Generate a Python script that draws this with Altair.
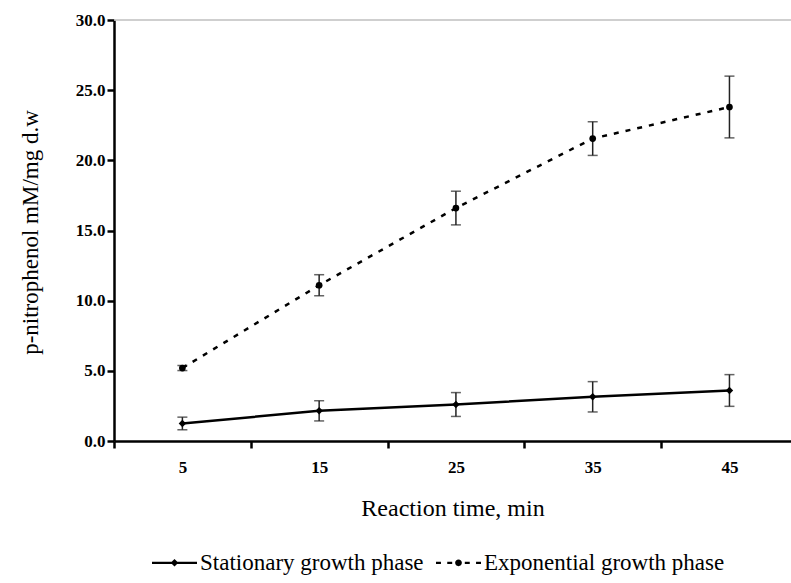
import altair as alt
import pandas as pd

# Reaction time (min) and p-nitrophenol release per mg dry weight
times = [5, 15, 25, 35, 45]
stationary = [1.25, 2.15, 2.6, 3.15, 3.6]
stationary_err = [0.45, 0.72, 0.85, 1.08, 1.13]
exponential = [5.2, 11.1, 16.6, 21.55, 23.8]
exponential_err = [0.18, 0.75, 1.2, 1.2, 2.2]
series_names = ["Stationary growth phase", "Exponential growth phase"]

y_ticks = [0, 5, 10, 15, 20, 25, 30]
x_ticks = [0, 5, 10, 15, 20, 25, 30, 35, 40, 45]

rows = []
for name, vals, errs in [(series_names[0], stationary, stationary_err),
                         (series_names[1], exponential, exponential_err)]:
    for t, v, e in zip(times, vals, errs):
        rows.append({"time": t, "value": v, "series": name,
                     "lo": v - e, "hi": v + e})
df = pd.DataFrame(rows)

serif = "Liberation Serif"
bar_color = "#222222"

x_scale = alt.Scale(domain=[0, 49.5], nice=False, zero=False)
y_scale = alt.Scale(domain=[0, 30], nice=False)

x_enc = alt.X(
    "time:Q",
    scale=x_scale,
    axis=alt.Axis(
        values=x_ticks,
        labelExpr="datum.value % 10 == 5 ? format(datum.value, 'd') : ''",
        tickOpacity={"condition": {"test": "datum.value % 10 == 5", "value": 0}, "value": 1},
        labelOverlap=False,
        labelPadding=11,
        titleY=67,
        titleBaseline="middle",
        titleFontSize=24,
    ),
    title="Reaction time, min",
)
y_enc = alt.Y(
    "value:Q",
    scale=y_scale,
    axis=alt.Axis(
        values=y_ticks,
        format=".1f",
        labelPadding=2,
        titleX=-84,
        titleY=212,
        titleAngle=-90,
        titleAlign="center",
        titleBaseline="middle",
    ),
    title="p-nitrophenol mM/mg d.w",
)

base = alt.Chart(df)

# error bars with caps
bars = base.mark_rule(color=bar_color, strokeWidth=1.5).encode(
    x=alt.X("time:Q", scale=x_scale), y=alt.Y("lo:Q", scale=y_scale), y2="hi:Q"
)
caps_lo = base.mark_tick(orient="horizontal", size=10, thickness=1.5, color=bar_color).encode(
    x=alt.X("time:Q", scale=x_scale), y=alt.Y("lo:Q", scale=y_scale)
)
caps_hi = base.mark_tick(orient="horizontal", size=10, thickness=1.5, color=bar_color).encode(
    x=alt.X("time:Q", scale=x_scale), y=alt.Y("hi:Q", scale=y_scale)
)

# one line + marker layer per series
stat = base.transform_filter(alt.datum.series == series_names[0])
expo = base.transform_filter(alt.datum.series == series_names[1])

stat_line = stat.mark_line(color="black", strokeWidth=2.5).encode(x=x_enc, y=y_enc)
expo_line = expo.mark_line(color="black", strokeWidth=2.5, strokeDash=[5, 7]).encode(
    x=alt.X("time:Q", scale=x_scale), y=alt.Y("value:Q", scale=y_scale)
)
stat_pts = stat.mark_point(shape="diamond", filled=True, size=55, color="black", opacity=1).encode(
    x=alt.X("time:Q", scale=x_scale), y=alt.Y("value:Q", scale=y_scale)
)
expo_pts = expo.mark_point(shape="circle", filled=True, size=45, color="black", opacity=1).encode(
    x=alt.X("time:Q", scale=x_scale), y=alt.Y("value:Q", scale=y_scale)
)

# legend symbols in the unit square: thin filled bars for the line, plus the marker
sym_stat = ("M-1,-0.05H1V0.05H-1Z"
            "M0,-0.17L0.17,0L0,0.17L-0.17,0Z")
sym_expo = ("M-1,-0.05H-0.78V0.05H-1Z"
            "M-0.5,-0.05H-0.28V0.05H-0.5Z"
            "M0.28,-0.05H0.5V0.05H0.28Z"
            "M0.78,-0.05H1V0.05H0.78Z"
            "M-0.15,0A0.15,0.15,0,1,0,0.15,0A0.15,0.15,0,1,0,-0.15,0Z")

legend_layer = base.transform_filter("false").mark_point(
    filled=True, color="black", opacity=1
).encode(
    x=alt.X("time:Q", scale=x_scale),
    y=alt.Y("value:Q", scale=y_scale),
    shape=alt.Shape(
        "series:N",
        scale=alt.Scale(domain=series_names, range=[sym_stat, sym_expo]),
        legend=alt.Legend(
            title=None,
            orient="none",
            direction="horizontal",
            legendX=38,
            legendY=520,
            symbolSize=2025,
            symbolStrokeWidth=0,
            symbolFillColor="black",
            symbolOpacity=1,
            labelFont=serif,
            labelFontSize=23,
            labelColor="black",
            labelLimit=400,
            labelOffset=3,
            columnPadding=12,
        ),
    ),
)

top_line = alt.Chart(pd.DataFrame({"v": [y_ticks[-1]]})).mark_rule(
    color="#bfbfbf", strokeWidth=1.5
).encode(y=alt.Y("v:Q", scale=y_scale))

chart = (
    alt.layer(top_line, bars, caps_lo, caps_hi, stat_line, expo_line, stat_pts, expo_pts, legend_layer)
    .properties(
        width=677,
        height=421,
        autosize=alt.AutoSizeParams(type="none"),
        padding={"left": 114, "top": 20, "right": 0, "bottom": 142},
        background="white",
    )
    .configure_view(stroke=None)
    .configure_axis(
        domainColor="black",
        domainWidth=2.5,
        tickColor="black",
        tickWidth=2.5,
        tickSize=7,
        grid=False,
        labelFont=serif,
        labelFontWeight="bold",
        labelFontSize=17,
        labelColor="black",
        titleFont=serif,
        titleFontWeight="normal",
        titleFontSize=23,
        titleColor="black",
    )
)

chart.save("out.html", embed_options={"renderer": "svg", "actions": False})
